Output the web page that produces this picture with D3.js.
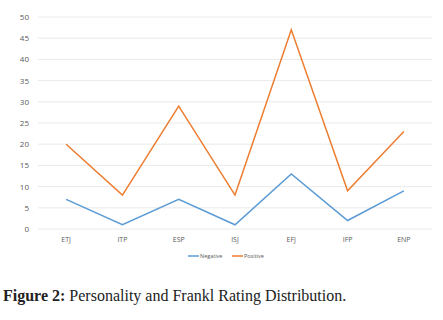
<!DOCTYPE html>
<html>
<head>
<meta charset="utf-8">
<script src="https://cdn.jsdelivr.net/npm/d3@7"></script>
<style>
  body { margin: 0; background: #fff; }
  svg { display: block; }
</style>
</head>
<body>
<div id="chart"></div>
<script>
const categories = ['ETJ', 'ITP', 'ESP', 'ISJ', 'EFJ', 'IFP', 'ENP']
const negative = [7, 1, 7, 1, 13, 2, 9]
const positive = [20, 8, 29, 8, 47, 9, 23]
const yTicks = [0, 5, 10, 15, 20, 25, 30, 35, 40, 45, 50]
const seriesNames = ['Negative', 'Positive']
const seriesColors = ['#5b9bd5', '#ed7d31']

const width = 443, height = 320
const margin = { top: 17, left: 38, right: 11, bottom: 91 }

const svg = d3.select('#chart')
  .append('svg')
  .attr('width', width)
  .attr('height', height)

const x = d3.scaleBand()
  .domain(categories)
  .range([margin.left, width - margin.right])

const y = d3.scaleLinear()
  .domain([0, 50])
  .range([height - margin.bottom, margin.top])

// gridlines
svg.append('g')
  .selectAll('line')
  .data(yTicks)
  .join('line')
  .attr('x1', margin.left)
  .attr('x2', width - margin.right)
  .attr('y1', d => y(d))
  .attr('y2', d => y(d))
  .attr('stroke', '#e4e4e4')
  .attr('stroke-width', 0.8)

// y axis labels
const yAxis = d3.axisLeft(y).tickValues(yTicks).tickSize(0).tickPadding(9)
svg.append('g')
  .attr('transform', 'translate(' + margin.left + ',0)')
  .call(yAxis)
  .call(g => g.select('.domain').remove())
  .selectAll('text')
  .attr('fill', '#595959')
  .style('font-family', 'Open Sans, sans-serif')
  .style('font-size', '8px')

// x axis labels
const xAxis = d3.axisBottom(x).tickSize(0).tickPadding(8)
svg.append('g')
  .attr('transform', 'translate(0,' + (height - margin.bottom) + ')')
  .call(xAxis)
  .call(g => g.select('.domain').remove())
  .selectAll('text')
  .attr('fill', '#595959')
  .style('font-family', 'Open Sans, sans-serif')
  .style('font-size', '7px')

const line = d3.line()
  .x((d, i) => x(categories[i]) + x.bandwidth() / 2)
  .y(d => y(d))

;[negative, positive].forEach((vals, i) => {
  svg.append('path')
    .datum(vals)
    .attr('d', line)
    .attr('fill', 'none')
    .attr('stroke', seriesColors[i])
    .attr('stroke-width', 1.5)
    .attr('stroke-linejoin', 'miter')
})

// legend
const legend = svg.append('g')
  .attr('transform', 'translate(188,256)')
const legendX = [0, 44]
seriesNames.forEach((name, i) => {
  const g = legend.append('g').attr('transform', 'translate(' + legendX[i] + ',0)')
  g.append('line')
    .attr('x1', 0).attr('x2', 11)
    .attr('stroke', seriesColors[i])
    .attr('stroke-width', 1.5)
  g.append('text')
    .attr('x', 12)
    .attr('dy', '0.35em')
    .attr('fill', '#595959')
    .style('font-family', 'Open Sans, sans-serif')
    .style('font-size', '5.5px')
    .text(name)
})

// caption
const caption = svg.append('text')
  .attr('x', 3)
  .attr('y', 301)
  .attr('fill', '#222')
  .style('font-family', 'Liberation Serif, serif')
  .style('font-size', '16px')
caption.append('tspan').attr('font-weight', 'bold').text('Figure 2:')
caption.append('tspan').text(' Personality and Frankl Rating Distribution.')
</script>
</body>
</html>
